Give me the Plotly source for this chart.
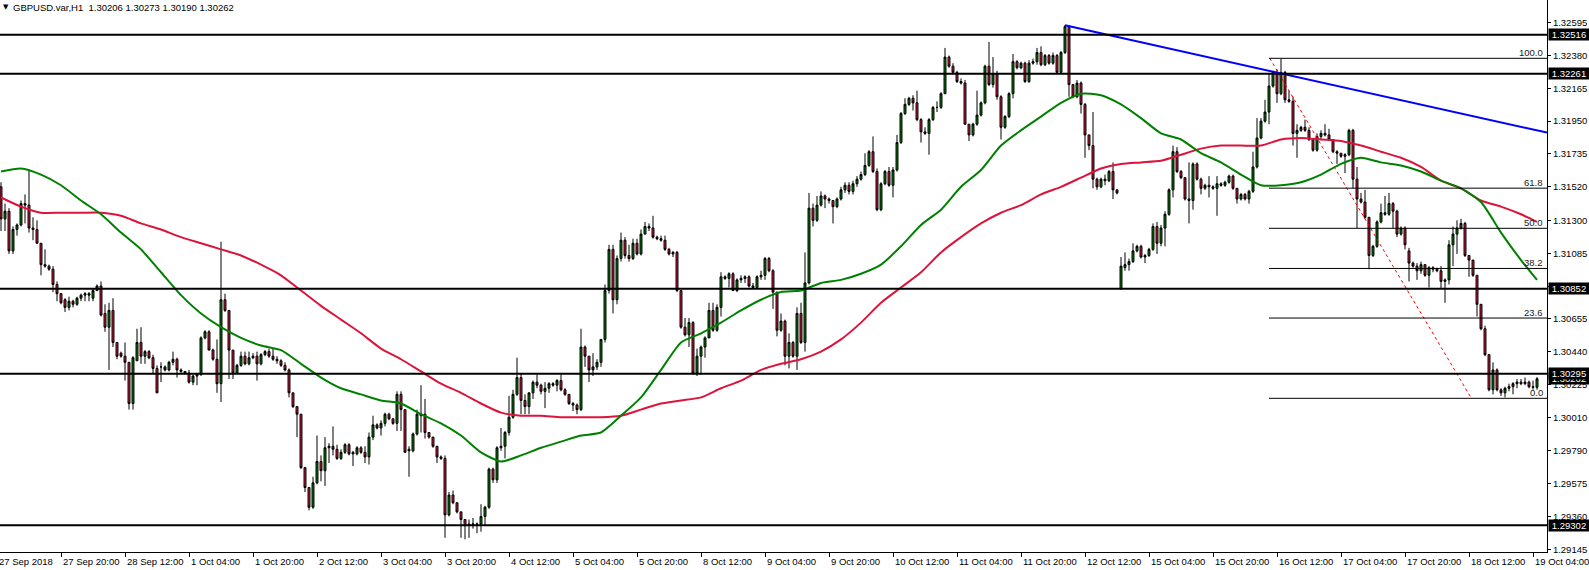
import plotly.graph_objects as go

# ---------------- data (GBPUSD H1) ----------------
opens = [
1.3152,1.3131,1.3136,1.3110,1.3124,1.3127,1.3141,1.3140,1.3125,1.3124,
1.3115,1.3101,1.3100,1.3098,1.3088,1.3082,1.3078,1.3073,1.3077,1.3075,
1.3079,1.3081,1.3082,1.3079,1.3084,1.3087,1.3069,1.3060,1.3071,1.3050,
1.3043,1.3041,1.3037,1.3010,1.3038,1.3050,1.3041,1.3044,1.3040,1.3033,
1.3034,1.3034,1.3032,1.3037,1.3039,1.3032,1.3031,1.3030,1.3024,1.3028,
1.3029,1.3053,1.3057,1.3045,1.3039,1.3023,1.3078,1.3071,1.3045,1.3030,
1.3035,1.3041,1.3036,1.3040,1.3041,1.3036,1.3042,1.3044,1.3041,1.3039,
1.3038,1.3035,1.3032,1.3017,1.3008,1.3003,1.2968,1.2955,1.2942,1.2958,
1.2972,1.2966,1.2981,1.2982,1.2980,1.2974,1.2978,1.2983,1.2978,1.2977,
1.2981,1.2978,1.2975,1.2988,1.2996,1.2994,1.2997,1.3003,1.3000,1.2997,
1.3016,1.3006,1.2980,1.2979,1.2990,1.3003,1.3003,1.2991,1.2988,1.2982,
1.2975,1.2974,1.2937,1.2950,1.2945,1.2939,1.2934,1.2930,1.2931,1.2931,
1.2931,1.2936,1.2942,1.2967,1.2960,1.2981,1.2982,1.2991,1.3001,1.3016,
1.3027,1.3012,1.3008,1.3017,1.3024,1.3022,1.3018,1.3020,1.3023,1.3022,
1.3025,1.3019,1.3016,1.3010,1.3009,1.3006,1.3047,1.3041,1.3032,1.3034,
1.3037,1.3052,1.3084,1.3111,1.3078,1.3105,1.3117,1.3107,1.3105,1.3115,
1.3108,1.3121,1.3126,1.3125,1.3119,1.3118,1.3117,1.3111,1.3108,1.3109,
1.3084,1.3060,1.3055,1.3063,1.3030,1.3041,1.3047,1.3053,1.3071,1.3058,
1.3073,1.3093,1.3092,1.3095,1.3084,1.3091,1.3092,1.3093,1.3087,1.3086,
1.3093,1.3094,1.3105,1.3097,1.3083,1.3058,1.3064,1.3041,1.3050,1.3041,
1.3069,1.3050,1.3089,1.3138,1.3130,1.3140,1.3146,1.3144,1.3143,1.3139,
1.3144,1.3150,1.3153,1.3149,1.3154,1.3157,1.3160,1.3166,1.3175,1.3162,
1.3137,1.3154,1.3162,1.3153,1.3163,1.3181,1.3200,1.3206,1.3210,1.3207,
1.3196,1.3188,1.3187,1.3196,1.3204,1.3204,1.3213,1.3237,1.3231,1.3227,
1.3221,1.3220,1.3193,1.3186,1.3193,1.3199,1.3207,1.3231,1.3219,1.3226,
1.3211,1.3191,1.3198,1.3213,1.3234,1.3230,1.3233,1.3221,1.3233,1.3234,
1.3240,1.3232,1.3238,1.3233,1.3238,1.3227,1.3240,1.3257,1.3219,1.3211,
1.3220,1.3206,1.3186,1.3179,1.3157,1.3152,1.3157,1.3156,1.3162,1.3150,
1.3085,1.3099,1.3101,1.3103,1.3110,1.3113,1.3106,1.3107,1.3111,1.3126,
1.3115,1.3125,1.3134,1.3150,1.3175,1.3162,1.3158,1.3144,1.3143,1.3167,
1.3157,1.3151,1.3153,1.3152,1.3151,1.3154,1.3153,1.3155,1.3159,1.3151,
1.3144,1.3147,1.3144,1.3149,1.3165,1.3184,1.3195,1.3201,1.3218,1.3227,
1.3213,1.3227,1.3209,1.3208,1.3187,1.3189,1.3191,1.3189,1.3183,1.3176,
1.3185,1.3187,1.3186,1.3183,1.3175,1.3174,1.3172,1.3173,1.3189,1.3157,
1.3144,1.3142,1.3132,1.3107,1.3113,1.3129,1.3135,1.3134,1.3141,1.3136,
1.3121,1.3125,1.3110,1.3102,1.3100,1.3097,1.3101,1.3094,1.3099,1.3098,
1.3097,1.3090,1.3091,1.3114,1.3121,1.3125,1.3128,1.3107,1.3104,1.3094,
1.3075,1.3059,1.3042,1.3019,1.3032,1.3019,1.3017,1.3020,1.3021,1.3023,
1.3024,1.3023,1.3024,1.3021,1.30206]

highs = [
1.3155,1.3141,1.3138,1.3126,1.3128,1.3143,1.3147,1.3163,1.3132,1.3130,
1.3115,1.3111,1.3101,1.3100,1.3090,1.3082,1.3079,1.3080,1.3078,1.3080,
1.3082,1.3083,1.3083,1.3085,1.3088,1.3090,1.3075,1.3076,1.3079,1.3050,
1.3044,1.3050,1.3037,1.3041,1.3059,1.3060,1.3045,1.3045,1.3042,1.3035,
1.3037,1.3035,1.3038,1.3044,1.3040,1.3033,1.3031,1.3032,1.3029,1.3030,
1.3054,1.3058,1.3058,1.3046,1.3052,1.3116,1.3082,1.3071,1.3045,1.3036,
1.3044,1.3044,1.3044,1.3043,1.3044,1.3043,1.3045,1.3046,1.3046,1.3041,
1.3039,1.3037,1.3033,1.3017,1.3008,1.3003,1.2968,1.2955,1.2962,1.2989,
1.2976,1.2988,1.2984,1.2995,1.2983,1.2980,1.2984,1.2984,1.2979,1.2982,
1.2982,1.2982,1.2991,1.3002,1.2997,1.2999,1.3004,1.3004,1.3000,1.3018,
1.3018,1.3006,1.2982,1.2991,1.3006,1.3022,1.3013,1.2991,1.2988,1.2982,
1.2976,1.2976,1.2952,1.2953,1.2945,1.2939,1.2934,1.2934,1.2935,1.2932,
1.2944,1.2943,1.2968,1.2968,1.2982,1.2994,1.2992,1.3015,1.3019,1.3040,
1.3030,1.3016,1.3017,1.3025,1.3029,1.3023,1.3024,1.3024,1.3024,1.3026,
1.3029,1.3020,1.3016,1.3011,1.3010,1.3059,1.3048,1.3041,1.3043,1.3039,
1.3052,1.3088,1.3114,1.3114,1.3107,1.3122,1.3119,1.3114,1.3118,1.3118,
1.3124,1.3129,1.3128,1.3133,1.3120,1.3120,1.3120,1.3112,1.3110,1.3110,
1.3084,1.3066,1.3066,1.3064,1.3046,1.3048,1.3054,1.3076,1.3076,1.3075,
1.3096,1.3094,1.3096,1.3096,1.3092,1.3094,1.3094,1.3094,1.3089,1.3094,
1.3097,1.3106,1.3106,1.3098,1.3083,1.3069,1.3065,1.3056,1.3051,1.3073,
1.3076,1.3109,1.3148,1.3141,1.3146,1.3149,1.3147,1.3145,1.3143,1.3145,
1.3152,1.3155,1.3155,1.3156,1.3159,1.3162,1.3174,1.3176,1.3185,1.3164,
1.3155,1.3163,1.3165,1.3165,1.3186,1.3201,1.3210,1.3211,1.3212,1.3215,
1.3197,1.3191,1.3197,1.3205,1.3208,1.3214,1.3243,1.3238,1.3233,1.3228,
1.3223,1.3222,1.3193,1.3194,1.3215,1.3208,1.3232,1.3247,1.3237,1.3228,
1.3212,1.3199,1.3214,1.3239,1.3235,1.3234,1.3234,1.3235,1.3236,1.3243,
1.3244,1.3239,1.3239,1.3240,1.3239,1.3241,1.3258,1.3258,1.3219,1.3222,
1.3221,1.3207,1.3186,1.3201,1.3158,1.3158,1.3160,1.3163,1.3168,1.3150,
1.3106,1.3109,1.3105,1.3115,1.3114,1.3114,1.3108,1.3112,1.3128,1.3129,
1.3127,1.3136,1.3151,1.3179,1.3178,1.3163,1.3158,1.3168,1.3168,1.3168,
1.3158,1.3154,1.3159,1.3153,1.3159,1.3155,1.3156,1.3160,1.3160,1.3151,
1.3148,1.3148,1.3150,1.3175,1.3197,1.3197,1.3209,1.3226,1.3228,1.3229,
1.3236,1.3228,1.3215,1.3211,1.3193,1.3192,1.3196,1.3191,1.3183,1.3187,
1.3189,1.3193,1.3190,1.3183,1.3176,1.3174,1.3174,1.3190,1.3190,1.3165,
1.3148,1.3150,1.3132,1.3114,1.3130,1.3141,1.3146,1.3148,1.3142,1.3137,
1.3126,1.3126,1.3112,1.3103,1.3102,1.3103,1.3101,1.3100,1.3100,1.3099,
1.3100,1.3092,1.3117,1.3126,1.3130,1.3131,1.3129,1.3107,1.3104,1.3094,
1.3075,1.3061,1.3042,1.3037,1.3033,1.3020,1.3021,1.3023,1.3024,1.3026,
1.3026,1.3027,1.3025,1.3025,1.30273]

lows = [
1.3123,1.3123,1.3108,1.3108,1.3120,1.3126,1.3128,1.3122,1.3117,1.3115,
1.3094,1.3099,1.3097,1.3083,1.3077,1.3075,1.3070,1.3071,1.3073,1.3074,
1.3077,1.3077,1.3077,1.3077,1.3084,1.3067,1.3057,1.3032,1.3047,1.3039,
1.3040,1.3025,1.3006,1.3006,1.3038,1.3036,1.3036,1.3039,1.3030,1.3017,
1.3024,1.3031,1.3031,1.3035,1.3027,1.3030,1.3029,1.3023,1.3022,1.3022,
1.3028,1.3052,1.3045,1.3038,1.3017,1.3011,1.3070,1.3026,1.3026,1.3030,
1.3034,1.3035,1.3035,1.3039,1.3025,1.3035,1.3041,1.3040,1.3038,1.3036,
1.3034,1.3031,1.3014,1.3007,1.2988,1.2967,1.2952,1.2940,1.2941,1.2957,
1.2959,1.2956,1.2971,1.2976,1.2973,1.2973,1.2977,1.2976,1.2969,1.2976,
1.2977,1.2971,1.2970,1.2986,1.2993,1.2989,1.2995,1.2999,1.2996,1.2992,
1.2992,1.2978,1.2962,1.2978,1.2989,1.2991,1.2987,1.2987,1.2981,1.2971,
1.2973,1.2922,1.2936,1.2944,1.2938,1.2922,1.2921,1.2922,1.2928,1.2925,
1.2926,1.2930,1.2941,1.2958,1.2958,1.2979,1.2974,1.2989,1.3000,1.3015,
1.3003,1.3003,1.3003,1.3013,1.3020,1.3016,1.3007,1.3017,1.3021,1.3018,
1.3018,1.3015,1.3009,1.3005,1.3003,1.3005,1.3034,1.3024,1.3028,1.3032,
1.3034,1.3050,1.3082,1.3069,1.3075,1.3103,1.3105,1.3103,1.3104,1.3107,
1.3107,1.3121,1.3123,1.3118,1.3117,1.3116,1.3110,1.3107,1.3106,1.3083,
1.3059,1.3054,1.3047,1.3029,1.3028,1.3029,1.3040,1.3053,1.3057,1.3057,
1.3067,1.3091,1.3086,1.3084,1.3083,1.3089,1.3089,1.3086,1.3085,1.3085,
1.3091,1.3091,1.3096,1.3072,1.3054,1.3057,1.3035,1.3033,1.3040,1.3032,
1.3049,1.3044,1.3088,1.3126,1.3129,1.3139,1.3138,1.3141,1.3128,1.3138,
1.3143,1.3148,1.3147,1.3147,1.3152,1.3156,1.3159,1.3165,1.3161,1.3136,
1.3136,1.3153,1.3152,1.3145,1.3162,1.3180,1.3199,1.3205,1.3202,1.3195,
1.3181,1.3186,1.3173,1.3195,1.3201,1.3203,1.3213,1.3230,1.3226,1.3220,
1.3219,1.3193,1.3182,1.3185,1.3192,1.3198,1.3206,1.3218,1.3217,1.3209,
1.3183,1.3190,1.3197,1.3210,1.3229,1.3229,1.3220,1.3220,1.3232,1.3232,
1.3231,1.3231,1.3232,1.3232,1.3226,1.3226,1.3239,1.3211,1.3210,1.3210,
1.3200,1.3171,1.3176,1.3151,1.3150,1.3151,1.3153,1.3155,1.3144,1.3147,
1.3085,1.3097,1.3097,1.3102,1.3109,1.3105,1.3102,1.3106,1.3110,1.3108,
1.3113,1.3113,1.3133,1.3145,1.3161,1.3157,1.3143,1.3128,1.3137,1.3156,
1.3147,1.3150,1.3145,1.3150,1.3133,1.3152,1.3152,1.3154,1.3150,1.3141,
1.3143,1.3143,1.3141,1.3148,1.3164,1.3183,1.3194,1.3193,1.3217,1.3207,
1.3212,1.3207,1.3207,1.3179,1.3171,1.3188,1.3188,1.3182,1.3175,1.3175,
1.3183,1.3185,1.3182,1.3174,1.3167,1.3171,1.3161,1.3172,1.3151,1.3125,
1.3141,1.3131,1.3098,1.3106,1.3112,1.3128,1.3133,1.3133,1.3125,1.3119,
1.3120,1.3111,1.3090,1.3099,1.3091,1.3095,1.3093,1.3086,1.3096,1.3096,
1.3085,1.3076,1.3088,1.3100,1.3108,1.3124,1.3106,1.3093,1.3093,1.3067,
1.3058,1.3041,1.3018,1.3016,1.3018,1.3015,1.3014,1.3018,1.3016,1.3020,
1.3022,1.3022,1.3020,1.3019,1.30190]

closes = [
1.3131,1.3136,1.3110,1.3124,1.3127,1.3141,1.3140,1.3125,1.3124,1.3115,
1.3101,1.3100,1.3098,1.3088,1.3082,1.3076,1.3073,1.3077,1.3075,1.3079,
1.3081,1.3082,1.3081,1.3084,1.3087,1.3068,1.3060,1.3071,1.3050,1.3041,
1.3041,1.3037,1.3010,1.3040,1.3050,1.3041,1.3044,1.3040,1.3033,1.3017,
1.3034,1.3032,1.3037,1.3039,1.3032,1.3031,1.3030,1.3024,1.3028,1.3029,
1.3053,1.3057,1.3045,1.3039,1.3023,1.3078,1.3071,1.3045,1.3030,1.3035,
1.3041,1.3036,1.3040,1.3041,1.3036,1.3042,1.3044,1.3041,1.3039,1.3038,
1.3035,1.3032,1.3017,1.3008,1.3003,1.2968,1.2955,1.2942,1.2958,1.2972,
1.2966,1.2981,1.2982,1.2980,1.2974,1.2978,1.2983,1.2977,1.2977,1.2981,
1.2978,1.2975,1.2988,1.2996,1.2994,1.2997,1.3003,1.3000,1.2997,1.3016,
1.3006,1.2978,1.2979,1.2990,1.3003,1.3002,1.2991,1.2988,1.2982,1.2975,
1.2974,1.2937,1.2950,1.2945,1.2939,1.2934,1.2930,1.2931,1.2931,1.2931,
1.2936,1.2942,1.2967,1.2960,1.2981,1.2982,1.2991,1.3001,1.3016,1.3027,
1.3012,1.3008,1.3017,1.3024,1.3022,1.3018,1.3020,1.3023,1.3022,1.3025,
1.3019,1.3016,1.3010,1.3009,1.3006,1.3047,1.3041,1.3032,1.3034,1.3037,
1.3052,1.3084,1.3111,1.3078,1.3105,1.3117,1.3107,1.3105,1.3115,1.3108,
1.3121,1.3126,1.3125,1.3119,1.3118,1.3117,1.3111,1.3108,1.3109,1.3084,
1.3060,1.3055,1.3063,1.3030,1.3041,1.3047,1.3053,1.3071,1.3058,1.3073,
1.3093,1.3092,1.3095,1.3084,1.3091,1.3092,1.3093,1.3087,1.3086,1.3093,
1.3094,1.3105,1.3097,1.3083,1.3058,1.3064,1.3041,1.3050,1.3041,1.3069,
1.3050,1.3089,1.3138,1.3130,1.3140,1.3146,1.3144,1.3143,1.3139,1.3144,
1.3150,1.3153,1.3149,1.3154,1.3157,1.3160,1.3166,1.3175,1.3162,1.3137,
1.3154,1.3162,1.3153,1.3163,1.3181,1.3200,1.3206,1.3210,1.3207,1.3196,
1.3188,1.3187,1.3196,1.3204,1.3204,1.3213,1.3237,1.3231,1.3227,1.3221,
1.3220,1.3193,1.3186,1.3193,1.3199,1.3207,1.3231,1.3219,1.3226,1.3211,
1.3191,1.3198,1.3213,1.3234,1.3230,1.3233,1.3221,1.3233,1.3234,1.3240,
1.3232,1.3238,1.3233,1.3238,1.3227,1.3240,1.3257,1.3219,1.3211,1.3220,
1.3206,1.3186,1.3179,1.3157,1.3152,1.3157,1.3156,1.3162,1.3150,1.3148,
1.3100,1.3101,1.3103,1.3110,1.3113,1.3106,1.3107,1.3111,1.3126,1.3115,
1.3125,1.3134,1.3150,1.3175,1.3162,1.3158,1.3144,1.3143,1.3167,1.3157,
1.3151,1.3153,1.3152,1.3151,1.3154,1.3153,1.3155,1.3159,1.3151,1.3144,
1.3147,1.3144,1.3149,1.3165,1.3184,1.3195,1.3201,1.3218,1.3227,1.3213,
1.3227,1.3209,1.3208,1.3187,1.3189,1.3191,1.3189,1.3183,1.3176,1.3185,
1.3187,1.3186,1.3183,1.3175,1.3174,1.3172,1.3173,1.3189,1.3157,1.3144,
1.3142,1.3132,1.3107,1.3113,1.3129,1.3135,1.3134,1.3141,1.3136,1.3121,
1.3125,1.3114,1.3102,1.3100,1.3097,1.3101,1.3094,1.3099,1.3098,1.3097,
1.3090,1.3091,1.3114,1.3121,1.3125,1.3128,1.3107,1.3104,1.3094,1.3075,
1.3059,1.3042,1.3019,1.3032,1.3019,1.3017,1.3020,1.3021,1.3023,1.3024,
1.3023,1.3024,1.3021,1.30206,1.30262]

bars = list(range(len(closes)))

# moving averages sampled along the chart (bar index -> price)
ma_bars = list(range(0, 385, 5)) + [384]
ma_fast = [
1.3162,1.3164,1.3160,1.3153,1.3143,1.3134,1.3122,1.3111,1.3096,1.3081,
1.3069,1.3060,1.3053,1.3048,1.3045,1.3036,1.3027,1.3020,1.3016,1.3012,
1.3010,1.3003,1.2997,1.2989,1.2978,1.2972,1.2976,1.2981,1.2985,1.2989,
1.2991,1.3002,1.3014,1.3032,1.3050,1.3056,1.3063,1.3071,1.3078,1.3083,
1.3084,1.3089,1.3091,1.3095,1.3101,1.3113,1.3127,1.3137,1.3152,1.3163,
1.3179,1.3189,1.3198,1.3207,1.3213,1.3212,1.3206,1.3197,1.3187,1.3183,
1.3174,1.3168,1.3160,1.3153,1.3153,1.3155,1.3160,1.3167,1.3171,1.3168,
1.3166,1.3162,1.3156,1.3151,1.3142,1.3122,1.3104,1.3091]
ma_slow = [
1.3145,1.3139,1.3135,1.3135,1.3135,1.3135,1.3133,1.3128,1.3124,1.3119,
1.3115,1.3111,1.3107,1.3101,1.3094,1.3084,1.3074,1.3065,1.3056,1.3046,
1.3039,1.3031,1.3023,1.3017,1.3010,1.3004,1.3002,1.3002,1.3001,1.3001,
1.3001,1.3002,1.3006,1.3010,1.3012,1.3014,1.3020,1.3025,1.3032,1.3036,
1.3039,1.3044,1.3052,1.3063,1.3076,1.3086,1.3096,1.3109,1.3119,1.3128,
1.3135,1.3140,1.3147,1.3152,1.3158,1.3164,1.3167,1.3168,1.3169,1.3173,
1.3177,1.3179,1.3179,1.3179,1.3183,1.3184,1.3183,1.3182,1.3179,1.3175,
1.3171,1.3165,1.3156,1.3151,1.3143,1.3139,1.3134,1.3129]

# horizontal support / resistance levels
h_levels = [1.32516, 1.32261, 1.30852, 1.30295, 1.29302]
current_price = 1.30262

# Fibonacci retracement
fib_labels = ["100.0", "61.8", "50.0", "38.2", "23.6", "0.0"]
fib_prices = [1.32362, 1.31511, 1.31248, 1.30985, 1.30660, 1.30134]
fib_start_bar = 317
fib_anchor_bars = [317.2, 367.6]
fib_anchor_prices = [1.32362, 1.30134]

# blue trend line (ray)
trend_bars = [266, 386.5]
trend_prices = [1.32578, 1.31875]

# axes
y_ticks = [1.32595, 1.32380, 1.32165, 1.31950, 1.31735, 1.31520, 1.31300,
           1.31085, 1.30870, 1.30655, 1.30440, 1.30225, 1.30010, 1.29790,
           1.29575, 1.29360, 1.29145]
y_tick_text = ["1.32595", "1.32380", "1.32165", "1.31950", "1.31735", "1.31520",
               "1.31300", "1.31085", "1.30870", "1.30655", "1.30440", "1.30225",
               "1.30010", "1.29790", "1.29575", "1.29360", "1.29145"]
x_tick_bars = [-1, 15, 31, 47, 63, 79, 95, 111, 127, 143, 159, 175, 191,
               207, 223, 239, 255, 271, 287, 303, 319, 335, 351, 367, 383]
x_tick_labels = ["27 Sep 2018", "27 Sep 20:00", "28 Sep 12:00", "1 Oct 04:00",
                 "1 Oct 20:00", "2 Oct 12:00", "3 Oct 04:00", "3 Oct 20:00",
                 "4 Oct 12:00", "5 Oct 04:00", "5 Oct 20:00", "8 Oct 12:00",
                 "9 Oct 04:00", "9 Oct 20:00", "10 Oct 12:00", "11 Oct 04:00",
                 "11 Oct 20:00", "12 Oct 12:00", "15 Oct 04:00", "15 Oct 20:00",
                 "16 Oct 12:00", "17 Oct 04:00", "17 Oct 20:00", "18 Oct 12:00",
                 "19 Oct 04:00"]
title_text = "GBPUSD.var,H1\u00a0 1.30206 1.30273 1.30190 1.30262"

assert len(opens) == len(highs) == len(lows) == len(closes) == 385

FONT = "Liberation Sans, Arial, sans-serif"
X_RANGE = [-0.25, 386.5]
Y_RANGE = [1.29127, 1.32744]
PX_PER_BAR = 4

fig = go.Figure()

fig.add_trace(go.Candlestick(
    x=bars, open=opens, high=highs, low=lows, close=closes,
    increasing=dict(fillcolor="#008000", line=dict(color="#000000", width=1)),
    decreasing=dict(fillcolor="#DC143C", line=dict(color="#000000", width=1)),
    whiskerwidth=0, showlegend=False, hoverinfo="skip"))

fig.add_trace(go.Scatter(x=ma_bars, y=ma_slow, mode="lines",
                         line=dict(color="#DC143C", width=2, shape="spline", smoothing=0.6),
                         showlegend=False, hoverinfo="skip"))
fig.add_trace(go.Scatter(x=ma_bars, y=ma_fast, mode="lines",
                         line=dict(color="#008000", width=2, shape="spline", smoothing=0.6),
                         showlegend=False, hoverinfo="skip"))

fig.add_trace(go.Scatter(x=trend_bars, y=trend_prices, mode="lines",
                         line=dict(color="#0000FF", width=2),
                         showlegend=False, hoverinfo="skip"))
fig.add_trace(go.Scatter(x=fib_anchor_bars, y=fib_anchor_prices, mode="lines",
                         line=dict(color="#FF0000", width=1, dash="dot"),
                         showlegend=False, hoverinfo="skip"))

shapes = []
for lv in h_levels:
    shapes.append(dict(type="line", xref="paper", x0=0, x1=1, yref="y", y0=lv, y1=lv,
                       line=dict(color="#000000", width=2), layer="above"))
for fp in fib_prices:
    shapes.append(dict(type="line", xref="x", x0=fib_start_bar, x1=X_RANGE[1], yref="y",
                       y0=fp, y1=fp, line=dict(color="#000000", width=1), layer="above"))

ann = []
# fib labels
for lab, fp in zip(fib_labels, fib_prices):
    ann.append(dict(x=1, xref="paper", xanchor="right", xshift=-2, y=fp, yref="y",
                    yanchor="bottom", yshift=-2, text=lab, showarrow=False,
                    font=dict(family=FONT, size=9.5, color="#202020")))
# x axis labels (left aligned to tick as in MT4)
for xb, lab in zip(x_tick_bars, x_tick_labels):
    xa = max(xb, X_RANGE[0])
    shift = (xb - xa) * PX_PER_BAR
    ann.append(dict(x=xa, xref="x", xanchor="left", xshift=shift, y=0, yref="paper",
                    yanchor="top", yshift=-2, text=lab, showarrow=False,
                    font=dict(family=FONT, size=9.5, color="#000000")))
# price boxes
for val in [current_price] + h_levels:
    ann.append(dict(x=1, xref="paper", xanchor="left", xshift=1, y=val, yref="y",
                    yanchor="middle", text=f"{val:.5f}", showarrow=False,
                    bgcolor="#000000", borderpad=0, width=40, height=11, align="center",
                    font=dict(family=FONT, size=9.5, color="#FFFFFF")))
# title
ann.append(dict(x=0, xref="paper", xanchor="left", xshift=1, y=1, yref="paper",
                yanchor="top", yshift=-1, text="\u25bc", showarrow=False,
                font=dict(family="DejaVu Sans", size=7, color="#000000")))
ann.append(dict(x=0, xref="paper", xanchor="left", xshift=11, y=1, yref="paper",
                yanchor="top", yshift=0, text=title_text, showarrow=False,
                font=dict(family=FONT, size=9.5, color="#000000")))

fig.update_layout(
    width=1589, height=570, autosize=False,
    margin=dict(l=0, r=42, t=0, b=18),
    paper_bgcolor="#FFFFFF", plot_bgcolor="#FFFFFF",
    shapes=shapes, annotations=ann, showlegend=False,
    xaxis=dict(range=X_RANGE, rangeslider=dict(visible=False), showgrid=False,
               zeroline=False, showline=True, linecolor="#000000", linewidth=1,
               tickmode="array", tickvals=x_tick_bars, ticks="outside", ticklen=4,
               tickcolor="#000000", showticklabels=False, fixedrange=True),
    yaxis=dict(range=Y_RANGE, side="right", showgrid=False, zeroline=False,
               showline=True, linecolor="#000000", linewidth=1,
               tickmode="array", tickvals=y_ticks, ticktext=y_tick_text,
               ticks="outside", ticklen=3, tickcolor="#000000",
               tickfont=dict(family=FONT, size=9.5, color="#000000"), fixedrange=True),
)

fig.write_html("out.html", config={"displayModeBar": False},
               post_script="document.body.style.margin='0';")
